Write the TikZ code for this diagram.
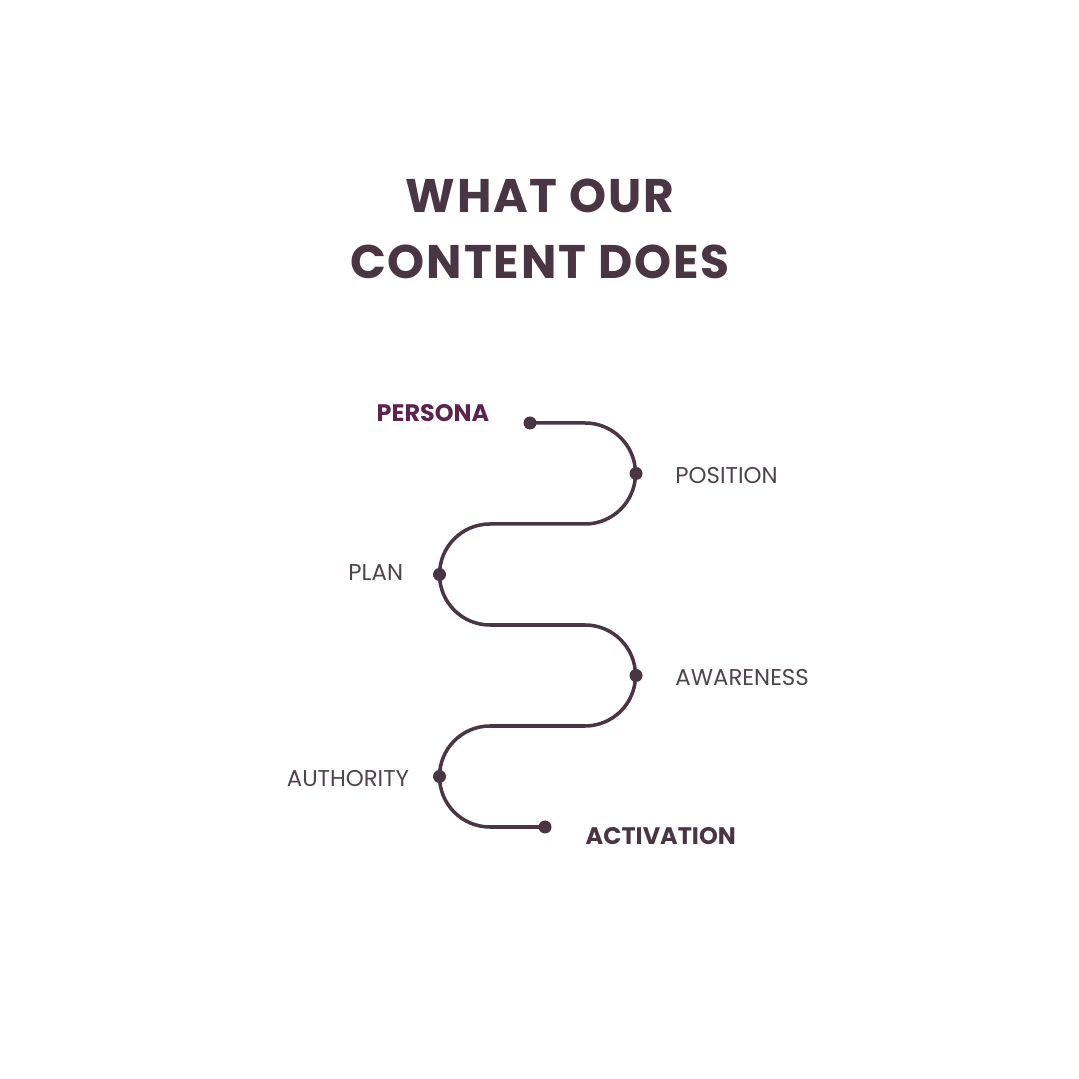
\documentclass[tikz,border=0pt]{standalone}
\usepackage{fontspec}
\setmainfont{Poppins}
\usepackage{tikz}
\usetikzlibrary{positioning}
\definecolor{ink}{RGB}{74, 53, 66}
\definecolor{plum}{RGB}{92, 35, 80}
\definecolor{soft}{RGB}{80, 68, 76}

\begin{document}
\begin{tikzpicture}[x=0.01cm, y=0.01cm,
    dot/.style={circle, fill=ink, inner sep=0pt, minimum size=0.13cm},
    lbl/.style={inner sep=0pt, font=\fontsize{6.5}{8}\selectfont, text=soft},
    bold/.style={inner sep=0pt, font=\fontsize{6.8}{8}\selectfont\bfseries}]
  \useasboundingbox (0,0) rectangle (1079,1079);
  \fill[white] (0,0) rectangle (1079,1079);

  % title
  \node[font=\fontsize{13.4}{17}\selectfont\bfseries, text=ink, align=center,
    inner sep=0pt] (title) at (540,850)
    {\addfontfeature{LetterSpace=4}WHAT OUR\\[1.7pt]\addfontfeature{LetterSpace=4}CONTENT DOES};

  % the winding path
  \draw[ink, line width=1pt] (530,656) -- (585,656) arc (90:-90:50.5)
    -- (490,555) arc (90:270:50.5)
    -- (585,454) arc (90:-90:50.5)
    -- (490,353) arc (90:270:50.5) -- (545,252);

  \node[dot] (persona) at (530,656) {};
  \node[dot] (position) at (636,605.5) {};
  \node[dot] (plan) at (439.5,504.5) {};
  \node[dot] (awareness) at (636,403.5) {};
  \node[dot] (authority) at (439.5,302.5) {};
  \node[dot] (activation) at (545,252) {};

  \node[bold, text=plum, anchor=east] at ([xshift=-0.4cm, yshift=0.1cm]persona) {PERSONA};
  \node[lbl, right=0.315cm of position, yshift=-0.02cm] {POSITION};
  \node[lbl, left=0.285cm of plan, yshift=0.02cm] {PLAN};
  \node[lbl, right=0.315cm of awareness, yshift=-0.02cm] {AWARENESS};
  \node[lbl, left=0.225cm of authority, yshift=-0.02cm] {AUTHORITY};
  \node[bold, text=ink, anchor=west] at ([xshift=0.4cm, yshift=-0.09cm]activation) {ACTIVATION};
\end{tikzpicture}
\end{document}
